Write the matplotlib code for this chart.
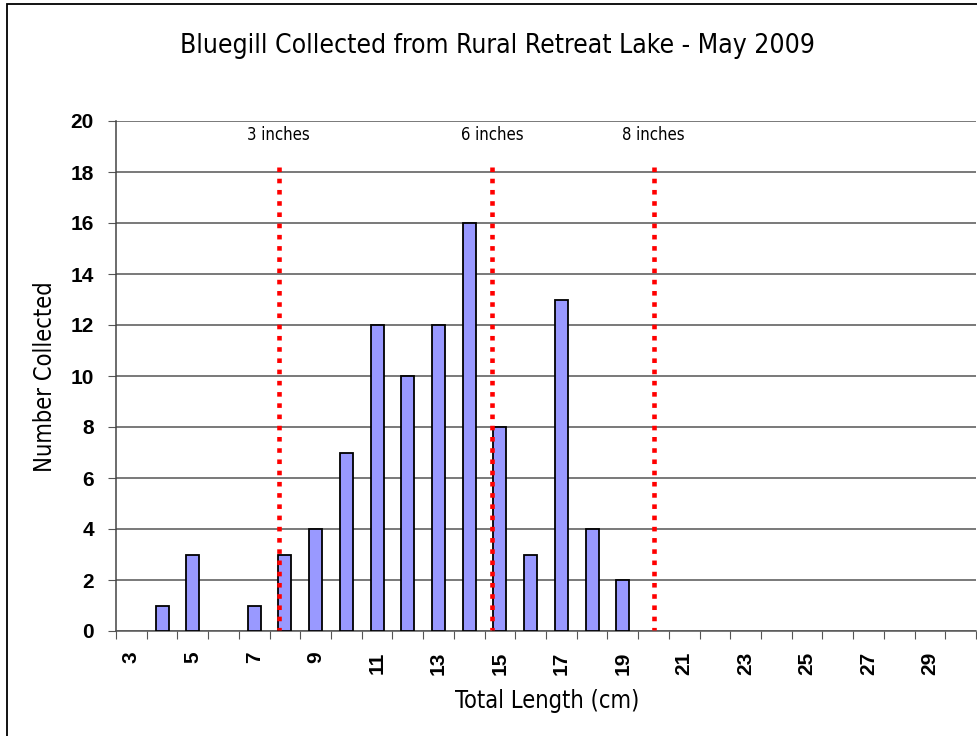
import matplotlib
matplotlib.use('Agg')
import matplotlib.pyplot as plt
from matplotlib.patches import Rectangle

# data
lengths = list(range(3, 31))
counts = [0, 1, 3, 0, 1, 3, 4, 7, 12, 10, 12, 16, 8, 3, 13, 4, 2,
          0, 0, 0, 0, 0, 0, 0, 0, 0, 0, 0]
inch_marks = [7.8, 14.75, 20.0]
inch_labels = ['3 inches', '6 inches', '8 inches']
yticks = list(range(0, 21, 2))

bold = ['Liberation Sans', 'DejaVu Sans']
narrow = dict(family='DejaVu Sans', fontstretch='condensed')

fig = plt.figure(figsize=(9.77, 7.36), dpi=100)
ax = fig.add_axes([116/977, 1-631/736, 860/977, 510/736])

bx = [x for x, c in zip(lengths, counts) if c > 0]
by = [c for c in counts if c > 0]
ax.bar(bx, by, width=0.42, color='#9999FF', edgecolor='black',
       linewidth=1.3, zorder=3)

for xm, lab in zip(inch_marks, inch_labels):
    ax.plot([xm, xm], [18.2, 0.05], color='#FF0000', linewidth=3.3,
            linestyle=(0, (1, 1.45)), solid_capstyle='butt', zorder=4)
    ax.text(xm, 19.45, lab, ha='center', va='center', fontsize=12, **narrow)

ax.set_xlim(2.5, 30.5)
ax.set_ylim(0, 20)

# tick marks on category boundaries, labels on odd lengths
ax.set_xticks([v + 0.5 for v in range(2, 31)])
ax.set_xticklabels([])
ax.set_xticks([v for v in lengths if v % 2 == 1], minor=True)
ax.set_xticklabels([str(v) for v in lengths if v % 2 == 1], minor=True,
                   rotation=90, fontsize=15, fontweight='bold', family=bold)
ax.tick_params(axis='x', which='major', length=6, color='#555555', direction='out')
ax.tick_params(axis='x', which='minor', length=0, pad=15)

ax.set_yticks(yticks)
ax.set_yticklabels([str(v) for v in yticks], fontsize=15,
                   fontweight='bold', family=bold)
ax.tick_params(axis='y', length=6, color='#555555', pad=10)

ax.yaxis.grid(True, color='#555555', linewidth=1.1, zorder=0)
ax.set_axisbelow(True)
for s in ['top', 'right']:
    ax.spines[s].set_visible(False)
ax.spines['left'].set_color('#444444')
ax.spines['bottom'].set_color('#555555')
ax.spines['left'].set_linewidth(1.1)
ax.spines['bottom'].set_linewidth(1.1)

fig.text(497/977, 1-46/736, 'Bluegill Collected from Rural Retreat Lake - May 2009',
         ha='center', va='center', fontsize=19, **narrow)
fig.text(45/977, 1-377/736, 'Number Collected', rotation=90, ha='center',
         va='center', fontsize=17, **narrow)
fig.text(547/977, 1-701/736, 'Total Length (cm)', ha='center', va='center',
         fontsize=17, **narrow)

# chart-area border (cut off on right and bottom)
fig.patches.append(Rectangle((7/977, -0.05), 1.1, 1.05 - 4/736, fill=False,
                             edgecolor='black', linewidth=1.3,
                             transform=fig.transFigure, figure=fig))

fig.savefig('out.png', dpi=100)
